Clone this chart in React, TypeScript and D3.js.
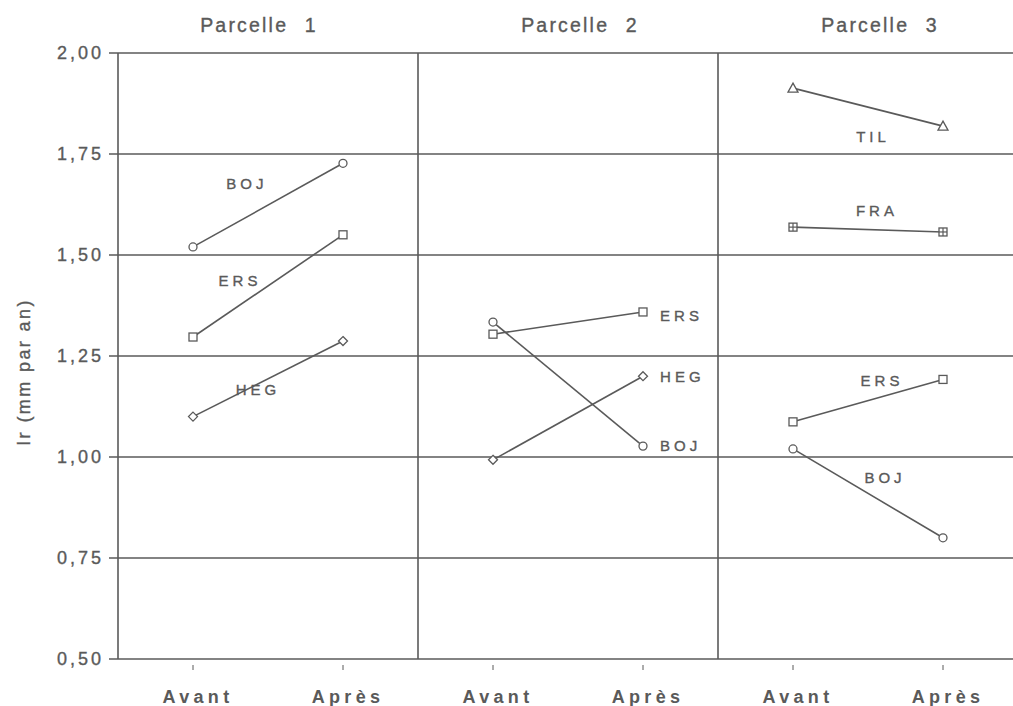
import React from "react";
import * as d3 from "d3";

const parcelles = ["Parcelle 1", "Parcelle 2", "Parcelle 3"];
const periods = ["Avant", "Après"];
const yTicks = [0.5, 0.75, 1.0, 1.25, 1.5, 1.75, 2.0];

type Series = { parcelle: number; species: string; marker: string; avant: number; apres: number };

const parcelle1: Series[] = [
  { parcelle: 0, species: "BOJ", marker: "circle", avant: 1.52, apres: 1.727 },
  { parcelle: 0, species: "ERS", marker: "square", avant: 1.297, apres: 1.55 },
  { parcelle: 0, species: "HEG", marker: "diamond", avant: 1.10, apres: 1.287 },
];
const parcelle2: Series[] = [
  { parcelle: 1, species: "BOJ", marker: "circle", avant: 1.334, apres: 1.027 },
  { parcelle: 1, species: "ERS", marker: "square", avant: 1.304, apres: 1.359 },
  { parcelle: 1, species: "HEG", marker: "diamond", avant: 0.993, apres: 1.20 },
];
const parcelle3: Series[] = [
  { parcelle: 2, species: "TIL", marker: "triangle", avant: 1.913, apres: 1.819 },
  { parcelle: 2, species: "FRA", marker: "crossSquare", avant: 1.569, apres: 1.557 },
  { parcelle: 2, species: "ERS", marker: "square", avant: 1.087, apres: 1.192 },
  { parcelle: 2, species: "BOJ", marker: "circle", avant: 1.02, apres: 0.80 },
];

// label anchors: fraction within panel, value on y axis, anchor
const labelPos = [
  { parcelle: 0, text: "BOJ", fx: 0.423, v: 1.676, anchor: "middle" },
  { parcelle: 0, text: "ERS", fx: 0.40, v: 1.436, anchor: "middle" },
  { parcelle: 0, text: "HEG", fx: 0.46, v: 1.166, anchor: "middle" },
  { parcelle: 1, text: "ERS", fx: 0.807, v: 1.351, anchor: "start" },
  { parcelle: 1, text: "HEG", fx: 0.807, v: 1.198, anchor: "start" },
  { parcelle: 1, text: "BOJ", fx: 0.807, v: 1.027, anchor: "start" },
  { parcelle: 2, text: "TIL", fx: 0.51, v: 1.792, anchor: "middle" },
  { parcelle: 2, text: "FRA", fx: 0.523, v: 1.611, anchor: "middle" },
  { parcelle: 2, text: "ERS", fx: 0.54, v: 1.188, anchor: "middle" },
  { parcelle: 2, text: "BOJ", fx: 0.55, v: 0.95, anchor: "middle" },
];

const allSeries = [...parcelle1, ...parcelle2, ...parcelle3];

const W = 1013;
const H = 706;
const left = 118;
const right = 1018;
const top = 53;
const bottom = 659;
const ink = "#5a5a5a";
const font = "'Liberation Sans', Arial, Helvetica, sans-serif";
const titleShift = [-9, 12, 12];

function Marker({ type, x, y }: { type: string; x: number; y: number }) {
  const common = { fill: "#fff", stroke: ink, strokeWidth: 1.3 };
  if (type === "circle") return <circle cx={x} cy={y} r={4} {...common} />;
  if (type === "square") return <rect x={x - 4} y={y - 4} width={8} height={8} {...common} />;
  if (type === "diamond")
    return <path d={`M${x},${y - 4.5}L${x + 4.5},${y}L${x},${y + 4.5}L${x - 4.5},${y}Z`} {...common} />;
  if (type === "triangle")
    return <path d={`M${x},${y - 5}L${x + 5},${y + 4}L${x - 5},${y + 4}Z`} {...common} />;
  if (type === "crossSquare")
    return (
      <g>
        <rect x={x - 4} y={y - 4} width={8} height={8} {...common} />
        <line x1={x} x2={x} y1={y - 4} y2={y + 4} stroke={ink} strokeWidth={1.2} />
        <line x1={x - 4} x2={x + 4} y1={y} y2={y} stroke={ink} strokeWidth={1.2} />
      </g>
    );
  return null;
}

export default function App() {
  const y = d3.scaleLinear().domain([0.5, 2.0]).range([bottom, top]);
  const panel = d3.scaleBand<number>().domain([0, 1, 2]).range([left, right]).padding(0);
  const pw = panel.bandwidth();
  const xIn = d3.scalePoint<string>().domain(periods).range([0.25 * pw, 0.75 * pw]);
  const line = d3
    .line<[number, number]>()
    .x((d) => d[0])
    .y((d) => d[1]);

  const textStroke = { stroke: ink, strokeWidth: 0.35 };

  return (
    <svg
      width={W}
      height={H}
      style={{ position: "absolute", left: 0, top: 0, background: "#fff" }}
      fontFamily={font}
    >
      <rect width={W} height={H} fill="#fff" />
      {/* gridlines */}
      {yTicks.map((t) => (
        <line key={"g" + t} x1={left - 9} x2={W} y1={y(t)} y2={y(t)} stroke={ink} strokeWidth={1.6} />
      ))}
      {/* y tick labels */}
      {yTicks.map((t) => (
        <text
          key={"yl" + t}
          x={104}
          y={y(t)}
          dy="0.36em"
          textAnchor="end"
          fontSize={18}
          letterSpacing={3}
          fill={ink}
          {...textStroke}
        >
          {d3.format(".2f")(t).replace(".", ",")}
        </text>
      ))}
      {/* vertical axis & panel separators */}
      {[0, 1, 2].map((p) => (
        <line key={"v" + p} x1={panel(p)!} x2={panel(p)!} y1={top} y2={bottom} stroke={ink} strokeWidth={1.6} />
      ))}
      {/* titles */}
      {parcelles.map((t, i) => (
        <text
          key={t}
          x={panel(i)! + pw / 2 + titleShift[i]}
          y={32}
          textAnchor="middle"
          fontSize={19.5}
          letterSpacing={2.2}
          wordSpacing={9}
          fill={ink}
          {...textStroke}
        >
          {t}
        </text>
      ))}
      {/* x ticks and labels */}
      {[0, 1, 2].map((p) =>
        periods.map((per) => {
          const cx = panel(p)! + xIn(per)!;
          return (
            <g key={p + per}>
              <line x1={cx} x2={cx} y1={665} y2={670} stroke={ink} strokeWidth={1} />
              <text
                x={cx + 5}
                y={703}
                textAnchor="middle"
                fontSize={18}
                fontWeight="bold"
                letterSpacing={4.3}
                fill={ink}
              >
                {per}
              </text>
            </g>
          );
        })
      )}
      {/* y axis label */}
      <text
        transform={`translate(30,${372}) rotate(-90)`}
        textAnchor="middle"
        fontSize={18}
        letterSpacing={2.4}
        fill={ink}
        {...textStroke}
      >
        Ir (mm par an)
      </text>
      {/* series */}
      {allSeries.map((s, i) => {
        const x0 = panel(s.parcelle)! + xIn("Avant")!;
        const x1 = panel(s.parcelle)! + xIn("Après")!;
        const pts: [number, number][] = [
          [x0, y(s.avant)],
          [x1, y(s.apres)],
        ];
        return (
          <g key={"s" + i}>
            <path d={line(pts)!} fill="none" stroke={ink} strokeWidth={1.6} />
            {pts.map((pt, j) => (
              <Marker key={j} type={s.marker} x={pt[0]} y={pt[1]} />
            ))}
          </g>
        );
      })}
      {/* species labels */}
      {labelPos.map((l, i) => (
        <text
          key={"l" + i}
          x={panel(l.parcelle)! + l.fx * pw + (l.anchor === "middle" ? 2 : 0)}
          y={y(l.v)}
          dy="0.36em"
          textAnchor={l.anchor as any}
          fontSize={15}
          letterSpacing={4}
          fill={ink}
          {...textStroke}
        >
          {l.text}
        </text>
      ))}
    </svg>
  );
}
